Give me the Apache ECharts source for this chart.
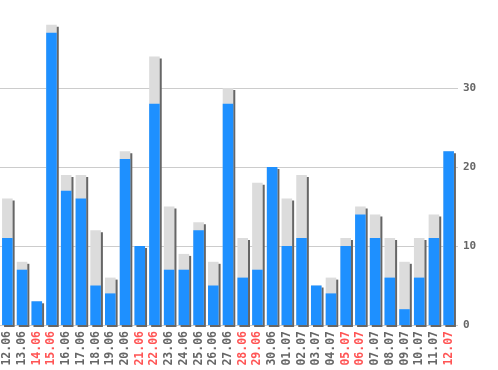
<!DOCTYPE html>
<html>
<head>
<meta charset="utf-8">
<script src="https://cdn.jsdelivr.net/npm/echarts@6/dist/echarts.min.js"></script>
<style>
html,body{margin:0;padding:0;background:#fff;}
#chart{width:498px;height:370px;}
</style>
</head>
<body>
<div id="chart"></div>
<script>
var categories = ['12.06','13.06','14.06','15.06','16.06','17.06','18.06','19.06','20.06','21.06','22.06','23.06','24.06','25.06','26.06','27.06','28.06','29.06','30.06','01.07','02.07','03.07','04.07','05.07','06.07','07.07','08.07','09.07','10.07','11.07','12.07'];
var totals = [16,8,3,38,19,19,12,6,22,10,34,15,9,13,8,30,11,18,20,16,19,5,6,11,15,14,11,8,11,14,22];
var blueValues = [11,7,3,37,17,16,5,4,21,10,28,7,7,12,5,28,6,7,20,10,11,5,4,10,14,11,6,2,6,11,22];
var weekendLabels = ['14.06','15.06','21.06','22.06','28.06','29.06','05.07','06.07','12.07'];
var yTicks = [0,10,20,30];

var chart = echarts.init(document.getElementById('chart'), null, {renderer:'canvas'});
var fontFamily = '"DejaVu Sans Mono", "Liberation Mono", monospace';
chart.setOption({
  animation: false,
  backgroundColor: '#ffffff',
  grid: {left: -2, right: 42, top: 9, bottom: 45, containLabel: false},
  xAxis: {
    type: 'category',
    data: categories,
    axisLine: {show: false},
    axisTick: {show: false},
    axisLabel: {
      interval: 0,
      rotate: 90,
      margin: 6,
      fontFamily: fontFamily,
      fontSize: 11.5,
      fontWeight: 'bold',
      color: function (v) { return weekendLabels.indexOf(v) >= 0 ? '#ff5555' : '#666666'; }
    }
  },
  yAxis: {
    type: 'value',
    position: 'right',
    min: 0,
    max: 40,
    interval: 10,
    axisLine: {show: false},
    axisTick: {show: true, length: 2, lineStyle: {color: '#cccccc'}},
    splitLine: {show: true, lineStyle: {color: ['#cccccc','#cccccc','#cccccc','#cccccc','rgba(0,0,0,0)'], width: 1}},
    axisLabel: {
      margin: 7,
      showMaxLabel: false,
      fontFamily: fontFamily,
      fontSize: 11,
      fontWeight: 'bold',
      color: '#666666',
      formatter: function (v) { return yTicks.indexOf(v) >= 0 ? String(v) : ''; }
    }
  },
  series: [
    {
      type: 'bar',
      data: totals,
      barWidth: '72%',
      itemStyle: {color: '#dcdcdc', shadowColor: '#666666', shadowOffsetX: 2, shadowOffsetY: 2, shadowBlur: 0}
    },
    {
      type: 'bar',
      data: blueValues,
      barWidth: '72%',
      barGap: '-100%',
      itemStyle: {color: '#1e90ff'}
    }
  ]
});
</script>
</body>
</html>
